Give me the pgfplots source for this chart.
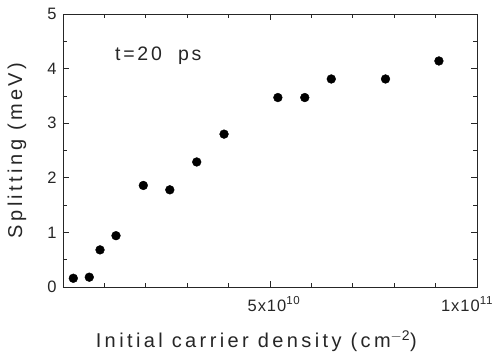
\documentclass[border=0pt]{standalone}
\usepackage{fontspec}
\setmainfont{Liberation Sans}
\newfontfamily\labfont[LetterSpace=17]{Liberation Sans}
\newfontfamily\tfont[LetterSpace=14]{Liberation Sans}
\newfontfamily\tickfont[LetterSpace=6]{Liberation Sans}
\usepackage{pgfplots}
\pgfplotsset{compat=1.18}
\pgfplotstableread{
x y
0.249 0.16
0.635 0.18
0.894 0.68
1.28 0.94
1.94 1.86
2.58 1.78
3.23 2.29
3.89 2.80
5.19 3.47
5.84 3.47
6.48 3.81
7.79 3.81
9.08 4.14
}\splitdata
\begin{document}
\begin{tikzpicture}
\path[use as bounding box] (-63pt,-67pt) rectangle (439pt,287pt);
\begin{axis}[
  at={(0pt,0pt)}, anchor=south west,
  scale only axis, width=414pt, height=273pt,
  xmin=0, xmax=10, ymin=0, ymax=5,
  xtick={5,10}, xticklabels={\hspace*{8pt}5x10\textsuperscript{10},1x10\textsuperscript{11}\hspace*{20pt}},
  minor xtick={1,2,3,4,6,7,8,9},
  ytick={0,1,2,3,4,5}, minor ytick={0.5,1.5,2.5,3.5,4.5},
  xtick pos=both, ytick pos=both,
  tick align=inside,
  major tick length=6pt, minor tick length=4pt,
  axis line style={black!85, line width=0.9pt},
  every tick/.style={black!85, line width=0.8pt},
  /pgf/number format/assume math mode=true,
  tick label style={font=\tickfont\fontsize{16.5}{16.5}\selectfont, text=black!85},
  xticklabel style={anchor=base, yshift=-24pt},
  yticklabel style={anchor=east, xshift=-3pt},
  xlabel={Initial carrier density (cm\textsuperscript{$-$2})},
  ylabel={Splitting (meV)},
  label style={font=\labfont\fontsize{20}{20}\selectfont, text=black!85},
  xlabel style={at={(axis description cs:0.467,-0.2234)}, anchor=base},
  ylabel style={at={(axis description cs:-0.099,0.5)}, anchor=base},
]
\addplot[only marks, mark=*, mark size=4.4pt, black] table {\splitdata};
\node[anchor=base west, font=\tfont\fontsize{19.5}{19.5}\selectfont, text=black!85, inner sep=0pt] at (axis cs:1.256,4.157) {t=20\ \ ps};
\end{axis}
\end{tikzpicture}
\end{document}
